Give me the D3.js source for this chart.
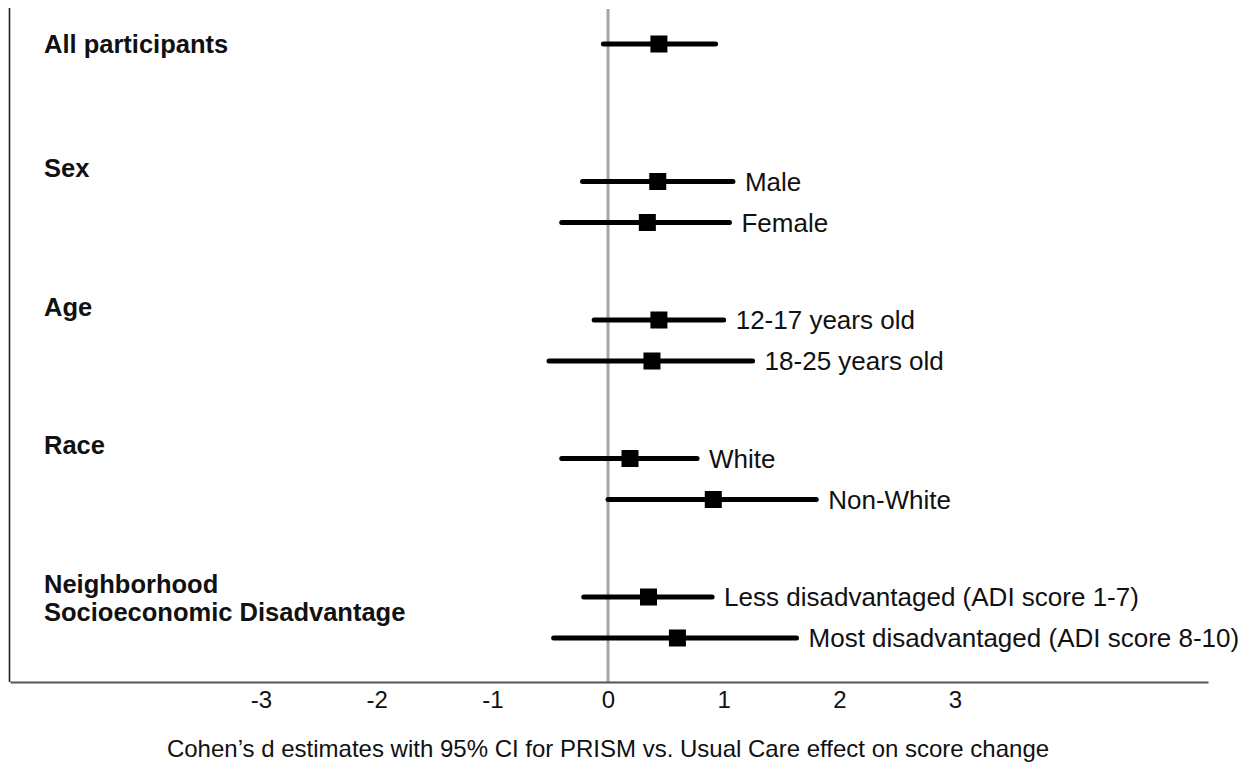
<!DOCTYPE html>
<html>
<head>
<meta charset="utf-8">
<script src="https://cdn.jsdelivr.net/npm/d3@7"></script>
<style>
  html, body { margin: 0; padding: 0; background: #fff; }
  svg { display: block; font-family: "Liberation Sans", Arial, sans-serif; }
</style>
</head>
<body>
<svg id="chart" width="1254" height="765"></svg>
<script>
// ---- data ----
const groups = ["All participants", "Sex", "Age", "Race", "Neighborhood\nSocioeconomic Disadvantage"];
const subgroups = [
  [""],
  ["Male", "Female"],
  ["12-17 years old", "18-25 years old"],
  ["White", "Non-White"],
  ["Less disadvantaged (ADI score 1-7)", "Most disadvantaged (ADI score 8-10)"]
];
const estimates = [
  [0.44],
  [0.43, 0.34],
  [0.44, 0.38],
  [0.19, 0.91],
  [0.35, 0.60]
];
const lowerCI = [
  [-0.04],
  [-0.22, -0.40],
  [-0.12, -0.51],
  [-0.40, 0.00],
  [-0.21, -0.47]
];
const upperCI = [
  [0.93],
  [1.08, 1.05],
  [1.00, 1.25],
  [0.77, 1.80],
  [0.90, 1.63]
];
const tickValues = [-3, -2, -1, 0, 1, 2, 3];
const xTitle = "Cohen\u2019s d estimates with 95% CI for PRISM vs. Usual Care effect on score change";

// ---- layout ----
const svg = d3.select("#chart");
const axisY = 682;
const x = d3.scaleLinear().domain([-5.17, 5.187]).range([10, 1208]);

// vertical layout computed from group structure
const rows = [];
const heads = [];
let cur = 44;
groups.forEach((g, gi) => {
  heads.push({ label: g, y: cur });
  const n = subgroups[gi].length;
  let itemY;
  subgroups[gi].forEach((s, si) => {
    itemY = (n === 1) ? cur : cur + 13.5 + si * 41;
    rows.push({ label: s, est: estimates[gi][si], lo: lowerCI[gi][si], hi: upperCI[gi][si], y: itemY });
  });
  cur = (n === 1) ? itemY + 124 : itemY + 84;
});

// left border
svg.append("line")
  .attr("x1", 9.5).attr("x2", 9.5).attr("y1", 8).attr("y2", axisY)
  .attr("stroke", "#222").attr("stroke-width", 1.6);

// zero reference line
svg.append("line")
  .attr("x1", x(0)).attr("x2", x(0)).attr("y1", 9).attr("y2", axisY)
  .attr("stroke", "#a6a6a6").attr("stroke-width", 3);

// x axis
const axis = d3.axisBottom(x).tickValues(tickValues).tickSize(0).tickPadding(9)
  .tickFormat(d3.format("d"));
const gAxis = svg.append("g").attr("transform", `translate(0,${axisY})`).call(axis);
gAxis.select(".domain").attr("stroke", "#555").attr("stroke-width", 2);
gAxis.selectAll(".tick text")
  .attr("font-size", 24).attr("fill", "#111")
  .attr("font-family", "Liberation Sans, Arial, sans-serif")
  .text(d => d < 0 ? "-" + Math.abs(d) : d);

// axis title
svg.append("text")
  .attr("x", 608).attr("y", 749).attr("dy", "0.35em")
  .attr("text-anchor", "middle").attr("font-size", 24).attr("fill", "#111")
  .text(xTitle);

// group headings
heads.forEach(h => {
  const lines = h.label.split("\n");
  lines.forEach((ln, i) => {
    svg.append("text")
      .attr("x", 44).attr("y", h.y + i * 28).attr("dy", "0.36em")
      .attr("font-size", 25.5).attr("font-weight", "bold").attr("fill", "#111")
      .text(ln);
  });
});

// CI lines
svg.selectAll("line.ci").data(rows).enter().append("line")
  .attr("class", "ci")
  .attr("x1", d => x(d.lo)).attr("x2", d => x(d.hi))
  .attr("y1", d => d.y).attr("y2", d => d.y)
  .attr("stroke", "#000").attr("stroke-width", 5).attr("stroke-linecap", "round");

// point estimates
const sq = 17;
svg.selectAll("rect.pt").data(rows).enter().append("rect")
  .attr("class", "pt")
  .attr("x", d => x(d.est) - sq / 2).attr("y", d => d.y - sq / 2)
  .attr("width", sq).attr("height", sq).attr("fill", "#000");

// subgroup labels
svg.selectAll("text.lab").data(rows.filter(d => d.label)).enter().append("text")
  .attr("class", "lab")
  .attr("x", d => x(d.hi) + 12).attr("y", d => d.y).attr("dy", "0.36em")
  .attr("font-size", 26).attr("fill", "#111")
  .text(d => d.label);
</script>
</body>
</html>
